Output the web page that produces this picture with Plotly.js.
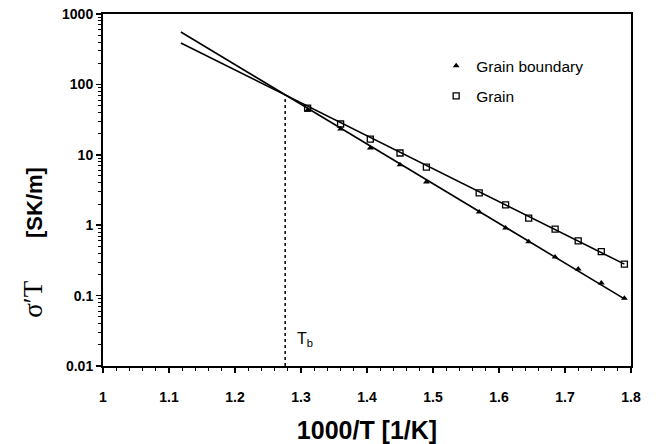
<!DOCTYPE html>
<html>
<head>
<meta charset="utf-8">
<script src="https://cdn.plot.ly/plotly-3.0.1.min.js"></script>
<style>html,body{margin:0;padding:0;background:#fff;}#chart{width:656px;height:444px;}</style>
</head>
<body>
<div id="chart"></div>
<script>
// Data
const xPoints = [1.31, 1.36, 1.405, 1.45, 1.49, 1.57, 1.61, 1.645, 1.685, 1.72, 1.755, 1.79];
const grainVals = [46, 27.4, 16.7, 10.6, 6.7, 2.87, 1.94, 1.26, 0.88, 0.60, 0.42, 0.28];
const boundaryVals = [43, 23.3, 12.5, 7.2, 4.1, 1.54, 0.91, 0.58, 0.353, 0.239, 0.151, 0.092];
// Fitted lines (endpoints)
const fitX = [1.118, 1.79];
const grainFit = [387, 0.28];
const boundaryFit = [555, 0.090];
// Tb marker line
const tbX = [1.276, 1.276];
const tbY = [0.01, 70];

const font = "Liberation Sans, Arial, sans-serif";

const traces = [
  {x: fitX, y: boundaryFit, mode: 'lines', line: {color: '#000', width: 1.6}, showlegend: false, hoverinfo: 'skip'},
  {x: fitX, y: grainFit, mode: 'lines', line: {color: '#000', width: 1.6}, showlegend: false, hoverinfo: 'skip'},
  {x: tbX, y: tbY, mode: 'lines', line: {color: '#000', width: 1.5, dash: 'dot'}, showlegend: false, hoverinfo: 'skip'},
  {x: xPoints, y: boundaryVals, mode: 'markers', name: 'Grain boundary', legendgroup: 'a',
   marker: {symbol: 'triangle-up', size: 6, color: '#000'}},
  {x: xPoints, y: grainVals, mode: 'markers', name: 'Grain', legendgroup: 'b',
   marker: {symbol: 'square-open', size: 6, color: '#000', line: {width: 1.3, color: '#000'}}}
];

const layout = {
  width: 656, height: 444,
  margin: {l: 103, r: 25, t: 14, b: 78},
  paper_bgcolor: '#fff', plot_bgcolor: '#fff',
  font: {family: font, color: '#000'},
  showlegend: true,
  legend: {x: 0.631, y: 0.9, xanchor: 'left', yanchor: 'top', bgcolor: 'rgba(0,0,0,0)',
           font: {family: font, size: 15.5, color: '#000'}, tracegroupgap: 7, traceorder: 'grouped'},
  xaxis: {
    range: [1, 1.8], dtick: 0.1, tick0: 1, showgrid: false, zeroline: false,
    showline: true, linecolor: '#000', linewidth: 2, mirror: true,
    ticks: 'outside', ticklen: 5, tickwidth: 1.5, tickcolor: '#000', ticklabelstandoff: 12,
    minor: {dtick: 0.02, ticks: 'outside', ticklen: 3, tickwidth: 1, tickcolor: '#000', showgrid: false},
    tickfont: {family: font, size: 14, color: '#000', weight: 700},
    title: {text: '1000/T [1/K]', font: {family: font, size: 25, color: '#000', weight: 700}, standoff: 19}
  },
  yaxis: {
    type: 'log', range: [-2, 3], dtick: 1, showgrid: false, zeroline: false,
    showline: true, linecolor: '#000', linewidth: 2, mirror: true,
    ticks: 'outside', ticklen: 5, tickwidth: 1.5, tickcolor: '#000',
    minor: {dtick: 'D1', ticks: 'outside', ticklen: 3, tickwidth: 1, tickcolor: '#000', showgrid: false},
    exponentformat: 'none',
    tickfont: {family: font, size: 14, color: '#000', weight: 700}
  },
  annotations: [
    {x: -0.1326, y: 0.353, xref: 'paper', yref: 'paper', textangle: -90, showarrow: false,
     xanchor: 'center', yanchor: 'middle',
     text: '<span style="font-family:Liberation Serif;font-weight:normal;font-size:27px">σ′T</span>&nbsp;&nbsp;&nbsp;&nbsp;&nbsp;&nbsp;&nbsp;[SK/m]',
     font: {family: font, size: 22, color: '#000', weight: 700}},
    {x: 1.291, y: -1.62, xref: 'x', yref: 'y', text: 'T<sub>b</sub>', showarrow: false,
     xanchor: 'left', yanchor: 'middle', font: {family: font, size: 16, color: '#000'}}
  ]
};

Plotly.newPlot('chart', traces, layout, {displayModeBar: false, staticPlot: true});
</script>
</body>
</html>
